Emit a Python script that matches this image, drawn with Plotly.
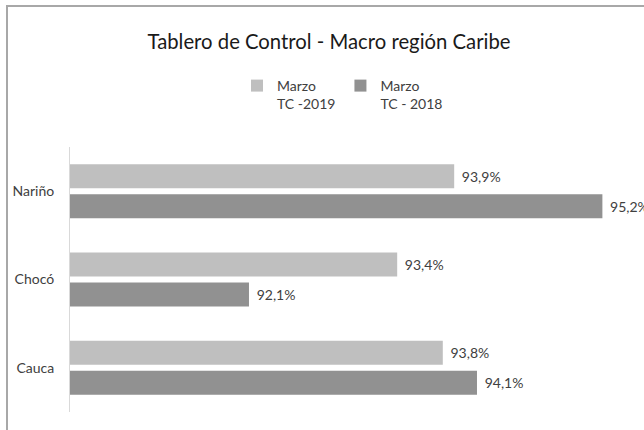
import plotly.graph_objects as go

categories = ["Nariño", "Chocó", "Cauca"]
tc_2019 = [93.9, 93.4, 93.8]
tc_2018 = [95.2, 92.1, 94.1]
series_names = ["Marzo<br>TC -2019", "Marzo<br>TC - 2018"]
title_text = "Tablero de Control - Macro región Caribe"

W, H = 644, 430
ML, MR, MT, MB = 70, 0, 147, 18
FONT = "Lato, Carlito, Calibri, sans-serif"
TXT = "#404040"
FS = 14

def lbl(v):
    return ["\u2004" + ("%.1f" % x).replace(".", ",") + "%" for x in v]

fig = go.Figure()
fig.add_trace(go.Bar(y=categories, x=tc_2019, orientation="h", name=series_names[0],
                     marker=dict(color="#bfbfbf", line=dict(width=0)),
                     text=lbl(tc_2019), textposition="outside", cliponaxis=False,
                     constraintext="none", textfont=dict(size=FS, color=TXT)))
fig.add_trace(go.Bar(y=categories, x=tc_2018, orientation="h", name=series_names[1],
                     marker=dict(color="#919191", line=dict(width=0)),
                     text=lbl(tc_2018), textposition="outside", cliponaxis=False,
                     constraintext="none", textfont=dict(size=FS, color=TXT)))

pw = W - ML - MR
ph = H - MT - MB
def px_x(p):
    return (p - ML) / pw
def px_y(p):
    return 1 - (p - MT) / ph

fig.update_layout(
    width=W, height=H,
    margin=dict(l=ML, r=MR, t=MT, b=MB, autoexpand=False),
    paper_bgcolor="white", plot_bgcolor="white",
    font=dict(family=FONT, color=TXT, size=FS),
    title=dict(text=title_text, x=329 / W, xanchor="center", y=1 - 42 / H, yanchor="middle",
               font=dict(size=20.3, color="#1a1a1a", family=FONT)),
    barmode="group", bargap=0.32, bargroupgap=0.2,
    showlegend=True,
    legend=dict(orientation="h", x=px_x(237), xanchor="left", y=px_y(70), yanchor="top",
                valign="top", font=dict(size=FS, color=TXT), traceorder="normal"),
    xaxis=dict(range=[90.53, 95.565], showgrid=False, showticklabels=False, zeroline=False,
               showline=False, ticks=""),
    yaxis=dict(autorange="reversed", showgrid=False, showline=True, linecolor="#d9d9d9",
               linewidth=1, ticks="", tickfont=dict(size=FS, color=TXT), ticklabelstandoff=12),
    shapes=[
        dict(type="rect", xref="paper", yref="paper", x0=px_x(7), x1=px_x(760), y0=px_y(6), y1=px_y(520),
             line=dict(color="#a8a8a8", width=2), fillcolor="rgba(0,0,0,0)", layer="above"),
    ],
)

fig.write_html("out.html", config={"displayModeBar": False},
               post_script="document.body.style.margin='0';")
